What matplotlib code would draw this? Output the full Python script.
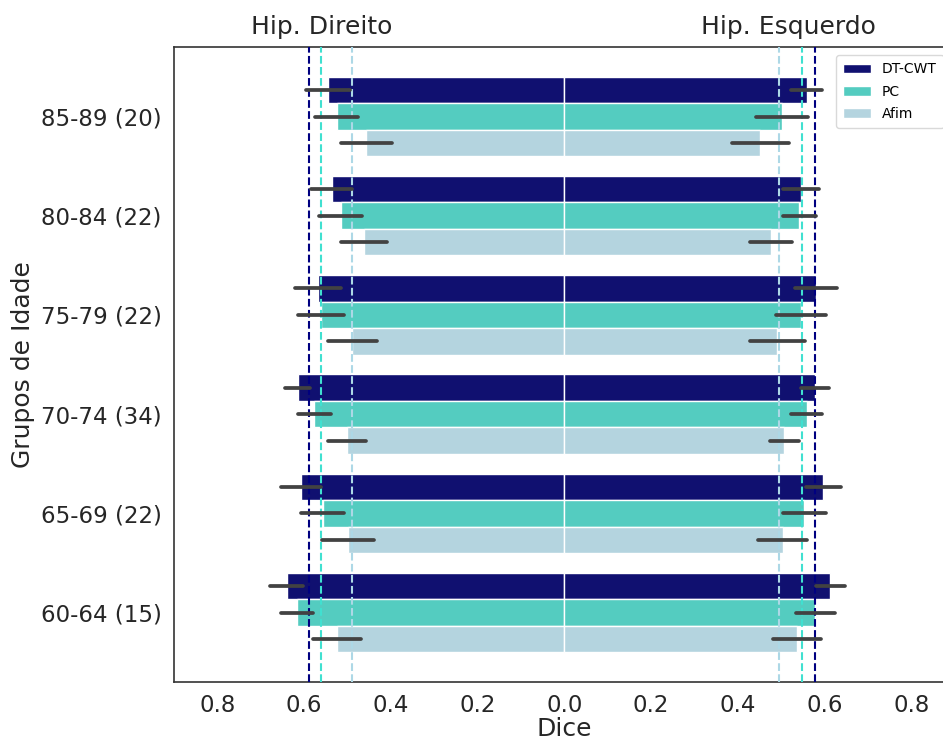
import numpy as np
import matplotlib
matplotlib.use("Agg")
import matplotlib.pyplot as plt
import matplotlib.colors as mcolors
import colorsys
from matplotlib.ticker import FuncFormatter

# Age groups (bottom to top) with number of subjects
groups = ["60-64 (15)", "65-69 (22)", "70-74 (34)", "75-79 (22)", "80-84 (22)", "85-89 (20)"]
methods = ["DT-CWT", "PC", "Afim"]

# Mean Dice per group, right hippocampus (drawn to the left)
right_dtcwt = [0.640, 0.607, 0.615, 0.568, 0.536, 0.545]
right_pc = [0.617, 0.557, 0.577, 0.561, 0.516, 0.525]
right_afim = [0.525, 0.498, 0.502, 0.489, 0.463, 0.457]
# Confidence half-widths, right hippocampus
right_dtcwt_err = [0.038, 0.047, 0.028, 0.054, 0.047, 0.050]
right_pc_err = [0.037, 0.050, 0.038, 0.052, 0.049, 0.050]
right_afim_err = [0.055, 0.060, 0.044, 0.056, 0.053, 0.059]

# Mean Dice per group, left hippocampus (drawn to the right)
left_dtcwt = [0.613, 0.597, 0.578, 0.580, 0.545, 0.559]
left_pc = [0.578, 0.553, 0.559, 0.546, 0.542, 0.502]
left_afim = [0.536, 0.503, 0.507, 0.491, 0.476, 0.452]
# Confidence half-widths, left hippocampus
left_dtcwt_err = [0.033, 0.040, 0.033, 0.049, 0.042, 0.036]
left_pc_err = [0.045, 0.049, 0.036, 0.058, 0.038, 0.060]
left_afim_err = [0.056, 0.057, 0.034, 0.063, 0.048, 0.065]

# Overall mean Dice per method (dashed reference lines)
right_overall = [0.588, 0.560, 0.490]
left_overall = [0.578, 0.548, 0.494]

base_colors = ["navy", "turquoise", "lightblue"]


def desaturate(color, prop=0.75):
    r, g, b = mcolors.to_rgb(color)
    h, l, s = colorsys.rgb_to_hls(r, g, b)
    return colorsys.hls_to_rgb(h, l, s * prop)


bar_colors = [desaturate(c) for c in base_colors]

plt.rcParams["font.family"] = ["DejaVu Sans"]
text_color = "#262626"

fig = plt.figure(figsize=(9.43, 7.40), dpi=100)
ax = fig.add_axes([0.1845, 0.0784, 0.828, 0.858])

y = np.arange(len(groups))
h = 0.8 / 3
offsets = [h, 0.0, -h]

right_vals = [right_dtcwt, right_pc, right_afim]
right_errs = [right_dtcwt_err, right_pc_err, right_afim_err]
left_vals = [left_dtcwt, left_pc, left_afim]
left_errs = [left_dtcwt_err, left_pc_err, left_afim_err]

for k, name in enumerate(methods):
    yy = y + offsets[k]
    rv = -np.array(right_vals[k])
    lv = np.array(left_vals[k])
    ax.barh(yy, rv, height=h, color=bar_colors[k], edgecolor="white",
            linewidth=1.0, label=name, zorder=2)
    ax.barh(yy, lv, height=h, color=bar_colors[k], edgecolor="white",
            linewidth=1.0, zorder=2)
    for val, err, yv in zip(rv, right_errs[k], yy):
        ax.plot([val - err, val + err], [yv, yv], color="#424242",
                lw=2.7, solid_capstyle="round", zorder=4)
    for val, err, yv in zip(lv, left_errs[k], yy):
        ax.plot([val - err, val + err], [yv, yv], color="#424242",
                lw=2.7, solid_capstyle="round", zorder=4)

for k in range(3):
    ax.axvline(-right_overall[k], color=base_colors[k], ls="--", lw=1.5, zorder=3)
    ax.axvline(left_overall[k], color=base_colors[k], ls="--", lw=1.5, zorder=3)

ax.set_xlim(-0.9, 0.9)
ax.set_ylim(-0.7, 5.7)
ax.set_xticks([-0.8, -0.6, -0.4, -0.2, 0.0, 0.2, 0.4, 0.6, 0.8])
ax.xaxis.set_major_formatter(FuncFormatter(lambda v, p: f"{abs(v):.1f}"))
ax.set_yticks(y)
ax.set_yticklabels(groups)
ax.tick_params(axis="both", length=0, labelsize=16.5, colors=text_color, pad=9)
ax.set_xlabel("Dice", fontsize=18, color=text_color, labelpad=0)
ax.set_ylabel("Grupos de Idade", fontsize=18, color=text_color, labelpad=4)

for sp in ax.spines.values():
    sp.set_color("#333333")
    sp.set_linewidth(1.2)

ax.text(-0.56, 1.012, "Hip. Direito", transform=ax.get_xaxis_transform(),
        ha="center", va="bottom", fontsize=18, color=text_color)
ax.text(0.517, 1.012, "Hip. Esquerdo", transform=ax.get_xaxis_transform(),
        ha="center", va="bottom", fontsize=18, color=text_color)

leg = ax.legend(loc="upper right", fontsize=10, frameon=True,
                bbox_to_anchor=(0.995, 0.998), handlelength=2.0,
                borderpad=0.5, labelspacing=0.6)
leg.get_frame().set_edgecolor("#d0d0d0")

fig.savefig("out.png", dpi=100)
